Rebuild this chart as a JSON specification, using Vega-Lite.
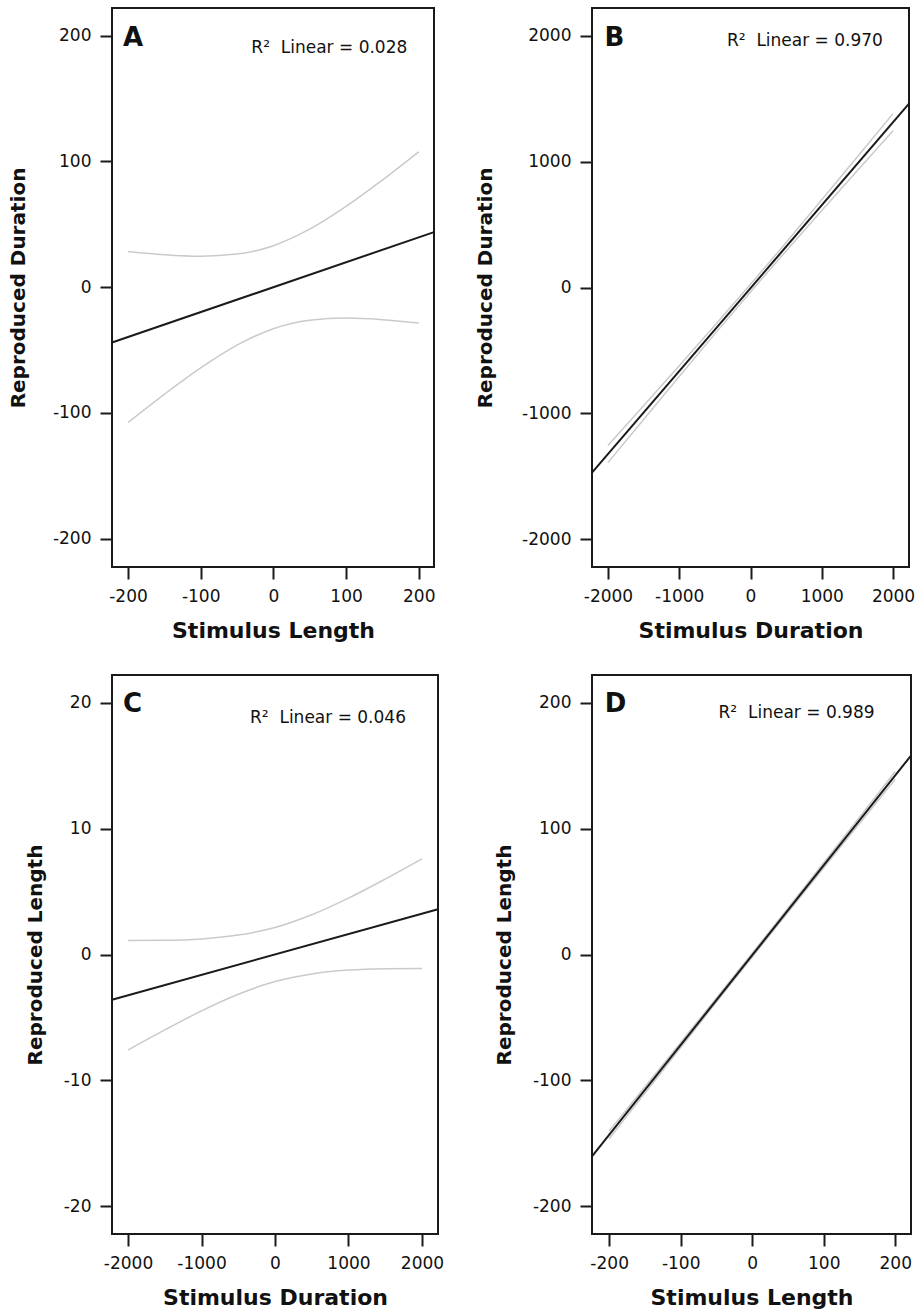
{
  "$schema": "https://vega.github.io/schema/vega-lite/v6.json",
  "padding": {"left": 7, "top": 7, "right": 5, "bottom": 5},
  "background": "white",
  "columns": 2,
  "spacing": {"row": 32, "column": 29},
  "datasets": {
    "A": [
      {"series": "fit", "x": -222, "y": -44.0},
      {"series": "fit", "x": 221, "y": 43.8},
      {"series": "upper", "x": -200, "y": 28.4},
      {"series": "upper", "x": -150, "y": 25.8},
      {"series": "upper", "x": -100, "y": 24.6},
      {"series": "upper", "x": -50, "y": 26.3},
      {"series": "upper", "x": 0, "y": 33.0},
      {"series": "upper", "x": 50, "y": 46.1},
      {"series": "upper", "x": 100, "y": 64.2},
      {"series": "upper", "x": 150, "y": 85.2},
      {"series": "upper", "x": 200, "y": 107.6},
      {"series": "lower", "x": -200, "y": -107.6},
      {"series": "lower", "x": -150, "y": -85.2},
      {"series": "lower", "x": -100, "y": -64.2},
      {"series": "lower", "x": -50, "y": -46.1},
      {"series": "lower", "x": 0, "y": -33.0},
      {"series": "lower", "x": 50, "y": -26.3},
      {"series": "lower", "x": 100, "y": -24.6},
      {"series": "lower", "x": 150, "y": -25.8},
      {"series": "lower", "x": 200, "y": -28.4}
    ],
    "B": [
      {"series": "fit", "x": -2224, "y": -1470.6},
      {"series": "fit", "x": 2224, "y": 1460.6},
      {"series": "upper", "x": -2000, "y": -1255},
      {"series": "upper", "x": -1500, "y": -938.8},
      {"series": "upper", "x": -1000, "y": -621.2},
      {"series": "upper", "x": -500, "y": -300.8},
      {"series": "upper", "x": 0, "y": 25},
      {"series": "upper", "x": 500, "y": 358.2},
      {"series": "upper", "x": 1000, "y": 696.8},
      {"series": "upper", "x": 1500, "y": 1038.2},
      {"series": "upper", "x": 2000, "y": 1381},
      {"series": "lower", "x": -2000, "y": -1391},
      {"series": "lower", "x": -1500, "y": -1048.2},
      {"series": "lower", "x": -1000, "y": -706.8},
      {"series": "lower", "x": -500, "y": -368.2},
      {"series": "lower", "x": 0, "y": -35},
      {"series": "lower", "x": 500, "y": 290.8},
      {"series": "lower", "x": 1000, "y": 611.2},
      {"series": "lower", "x": 1500, "y": 928.8},
      {"series": "lower", "x": 2000, "y": 1245}
    ],
    "C": [
      {"series": "fit", "x": -2218, "y": -3.59},
      {"series": "fit", "x": 2218, "y": 3.59},
      {"series": "upper", "x": -2000, "y": 1.11},
      {"series": "upper", "x": -1500, "y": 1.13},
      {"series": "upper", "x": -1000, "y": 1.24},
      {"series": "upper", "x": -500, "y": 1.54},
      {"series": "upper", "x": 0, "y": 2.15},
      {"series": "upper", "x": 500, "y": 3.16},
      {"series": "upper", "x": 1000, "y": 4.48},
      {"series": "upper", "x": 1500, "y": 5.99},
      {"series": "upper", "x": 2000, "y": 7.59},
      {"series": "lower", "x": -2000, "y": -7.59},
      {"series": "lower", "x": -1500, "y": -5.99},
      {"series": "lower", "x": -1000, "y": -4.48},
      {"series": "lower", "x": -500, "y": -3.16},
      {"series": "lower", "x": 0, "y": -2.15},
      {"series": "lower", "x": 500, "y": -1.54},
      {"series": "lower", "x": 1000, "y": -1.24},
      {"series": "lower", "x": 1500, "y": -1.13},
      {"series": "lower", "x": 2000, "y": -1.11}
    ],
    "D": [
      {"series": "fit", "x": -224, "y": -160.4},
      {"series": "fit", "x": 222, "y": 158.0},
      {"series": "upper", "x": -200, "y": -140.3},
      {"series": "upper", "x": -150, "y": -105.1},
      {"series": "upper", "x": -100, "y": -69.9},
      {"series": "upper", "x": -50, "y": -34.6},
      {"series": "upper", "x": 0, "y": 1.0},
      {"series": "upper", "x": 50, "y": 36.8},
      {"series": "upper", "x": 100, "y": 72.9},
      {"series": "upper", "x": 150, "y": 109.1},
      {"series": "upper", "x": 200, "y": 145.3},
      {"series": "lower", "x": -200, "y": -146.3},
      {"series": "lower", "x": -150, "y": -110.1},
      {"series": "lower", "x": -100, "y": -73.9},
      {"series": "lower", "x": -50, "y": -37.8},
      {"series": "lower", "x": 0, "y": -2.0},
      {"series": "lower", "x": 50, "y": 33.6},
      {"series": "lower", "x": 100, "y": 68.9},
      {"series": "lower", "x": 150, "y": 104.1},
      {"series": "lower", "x": 200, "y": 139.3}
    ],
    "labels": [
      {"panel": "A", "letter": "A", "r2": "R²\u00a0\u00a0Linear = 0.028"},
      {"panel": "B", "letter": "B", "r2": "R²\u00a0\u00a0Linear = 0.970"},
      {"panel": "C", "letter": "C", "r2": "R²\u00a0\u00a0Linear = 0.046"},
      {"panel": "D", "letter": "D", "r2": "R²\u00a0\u00a0Linear = 0.989"}
    ]
  },
  "config": {
    "view": {"stroke": "#1a1a1a", "strokeWidth": 2},
    "font": "DejaVu Sans",
    "axis": {
      "domain": false, "grid": false, "ticks": true, "tickSize": 12, "tickWidth": 2, "tickColor": "#1a1a1a",
      "labelFont": "DejaVu Sans", "labelFontSize": 17, "labelColor": "#111111",
      "labelFlush": false, "labelOverlap": false,
      "titleFont": "DejaVu Sans", "titleFontWeight": "bold", "titleColor": "#111111",
      "labelExpr": "'' + datum.value"
    },
    "axisX": {"labelPadding": 9, "titlePadding": 16, "titleFontSize": 22},
    "axisY": {"labelPadding": 9, "titleFontSize": 20},
    "text": {"color": "#111111", "font": "DejaVu Sans"}
  },
  "concat": [
    {
      "width": 322, "height": 559,
      "layer": [
        {"data": {"name": "A"},
         "transform": [{"filter": "datum.series !== 'fit'"}],
         "mark": {"type": "line", "interpolate": "monotone", "color": "#cacaca", "strokeWidth": 1.5},
         "encoding": {
           "x": {"field": "x", "type": "quantitative", "scale": {"domain": [-222, 221], "nice": false, "zero": false},
                 "axis": {"values": [-200, -100, 0, 100, 200], "title": "Stimulus Length"}},
           "y": {"field": "y", "type": "quantitative", "scale": {"domain": [-222.5, 222], "nice": false, "zero": false},
                 "axis": {"values": [-200, -100, 0, 100, 200], "title": "Reproduced Duration", "titlePadding": 24}},
           "detail": {"field": "series"}}},
        {"data": {"name": "A"},
         "transform": [{"filter": "datum.series === 'fit'"}],
         "mark": {"type": "line", "color": "#1a1a1a", "strokeWidth": 2},
         "encoding": {"x": {"field": "x", "type": "quantitative"}, "y": {"field": "y", "type": "quantitative"}}},
        {"data": {"name": "labels"},
         "transform": [{"filter": "datum.panel === 'A'"}],
         "mark": {"type": "text", "align": "left", "baseline": "middle", "fontSize": 26, "fontWeight": "bold"},
         "encoding": {"x": {"datum": -207}, "y": {"datum": 198}, "text": {"field": "letter"}}},
        {"data": {"name": "labels"},
         "transform": [{"filter": "datum.panel === 'A'"}],
         "mark": {"type": "text", "align": "center", "baseline": "middle", "fontSize": 17},
         "encoding": {"x": {"datum": 77}, "y": {"datum": 190}, "text": {"field": "r2"}}}
      ]
    },
    {
      "width": 317, "height": 559,
      "layer": [
        {"data": {"name": "B"},
         "transform": [{"filter": "datum.series !== 'fit'"}],
         "mark": {"type": "line", "interpolate": "monotone", "color": "#cacaca", "strokeWidth": 1.5},
         "encoding": {
           "x": {"field": "x", "type": "quantitative", "scale": {"domain": [-2224, 2224], "nice": false, "zero": false},
                 "axis": {"values": [-2000, -1000, 0, 1000, 2000], "title": "Stimulus Duration"}},
           "y": {"field": "y", "type": "quantitative", "scale": {"domain": [-2220, 2220], "nice": false, "zero": false},
                 "axis": {"values": [-2000, -1000, 0, 1000, 2000], "title": "Reproduced Duration", "titlePadding": 26}},
           "detail": {"field": "series"}}},
        {"data": {"name": "B"},
         "transform": [{"filter": "datum.series === 'fit'"}],
         "mark": {"type": "line", "color": "#1a1a1a", "strokeWidth": 2},
         "encoding": {"x": {"field": "x", "type": "quantitative"}, "y": {"field": "y", "type": "quantitative"}}},
        {"data": {"name": "labels"},
         "transform": [{"filter": "datum.panel === 'B'"}],
         "mark": {"type": "text", "align": "left", "baseline": "middle", "fontSize": 26, "fontWeight": "bold"},
         "encoding": {"x": {"datum": -2048}, "y": {"datum": 1984}, "text": {"field": "letter"}}},
        {"data": {"name": "labels"},
         "transform": [{"filter": "datum.panel === 'B'"}],
         "mark": {"type": "text", "align": "center", "baseline": "middle", "fontSize": 17},
         "encoding": {"x": {"datum": 764}, "y": {"datum": 1960}, "text": {"field": "r2"}}}
      ]
    },
    {
      "width": 326, "height": 559,
      "layer": [
        {"data": {"name": "C"},
         "transform": [{"filter": "datum.series !== 'fit'"}],
         "mark": {"type": "line", "interpolate": "monotone", "color": "#cacaca", "strokeWidth": 1.5},
         "encoding": {
           "x": {"field": "x", "type": "quantitative", "scale": {"domain": [-2218, 2218], "nice": false, "zero": false},
                 "axis": {"values": [-2000, -1000, 0, 1000, 2000], "title": "Stimulus Duration"}},
           "y": {"field": "y", "type": "quantitative", "scale": {"domain": [-22.2, 22.2], "nice": false, "zero": false},
                 "axis": {"values": [-20, -10, 0, 10, 20], "title": "Reproduced Length", "titlePadding": 18}},
           "detail": {"field": "series"}}},
        {"data": {"name": "C"},
         "transform": [{"filter": "datum.series === 'fit'"}],
         "mark": {"type": "line", "color": "#1a1a1a", "strokeWidth": 2},
         "encoding": {"x": {"field": "x", "type": "quantitative"}, "y": {"field": "y", "type": "quantitative"}}},
        {"data": {"name": "labels"},
         "transform": [{"filter": "datum.panel === 'C'"}],
         "mark": {"type": "text", "align": "left", "baseline": "middle", "fontSize": 26, "fontWeight": "bold"},
         "encoding": {"x": {"datum": -2068}, "y": {"datum": 19.9}, "text": {"field": "letter"}}},
        {"data": {"name": "labels"},
         "transform": [{"filter": "datum.panel === 'C'"}],
         "mark": {"type": "text", "align": "center", "baseline": "middle", "fontSize": 17},
         "encoding": {"x": {"datum": 721}, "y": {"datum": 18.8}, "text": {"field": "r2"}}}
      ]
    },
    {
      "width": 319, "height": 559,
      "layer": [
        {"data": {"name": "D"},
         "transform": [{"filter": "datum.series !== 'fit'"}],
         "mark": {"type": "line", "interpolate": "monotone", "color": "#cacaca", "strokeWidth": 1.5},
         "encoding": {
           "x": {"field": "x", "type": "quantitative", "scale": {"domain": [-224, 222], "nice": false, "zero": false},
                 "axis": {"values": [-200, -100, 0, 100, 200], "title": "Stimulus Length"}},
           "y": {"field": "y", "type": "quantitative", "scale": {"domain": [-222, 222], "nice": false, "zero": false},
                 "axis": {"values": [-200, -100, 0, 100, 200], "title": "Reproduced Length", "titlePadding": 18}},
           "detail": {"field": "series"}}},
        {"data": {"name": "D"},
         "transform": [{"filter": "datum.series === 'fit'"}],
         "mark": {"type": "line", "color": "#1a1a1a", "strokeWidth": 2},
         "encoding": {"x": {"field": "x", "type": "quantitative"}, "y": {"field": "y", "type": "quantitative"}}},
        {"data": {"name": "labels"},
         "transform": [{"filter": "datum.panel === 'D'"}],
         "mark": {"type": "text", "align": "left", "baseline": "middle", "fontSize": 26, "fontWeight": "bold"},
         "encoding": {"x": {"datum": -206}, "y": {"datum": 198.7}, "text": {"field": "letter"}}},
        {"data": {"name": "labels"},
         "transform": [{"filter": "datum.panel === 'D'"}],
         "mark": {"type": "text", "align": "center", "baseline": "middle", "fontSize": 17},
         "encoding": {"x": {"datum": 62}, "y": {"datum": 192}, "text": {"field": "r2"}}}
      ]
    }
  ]
}
